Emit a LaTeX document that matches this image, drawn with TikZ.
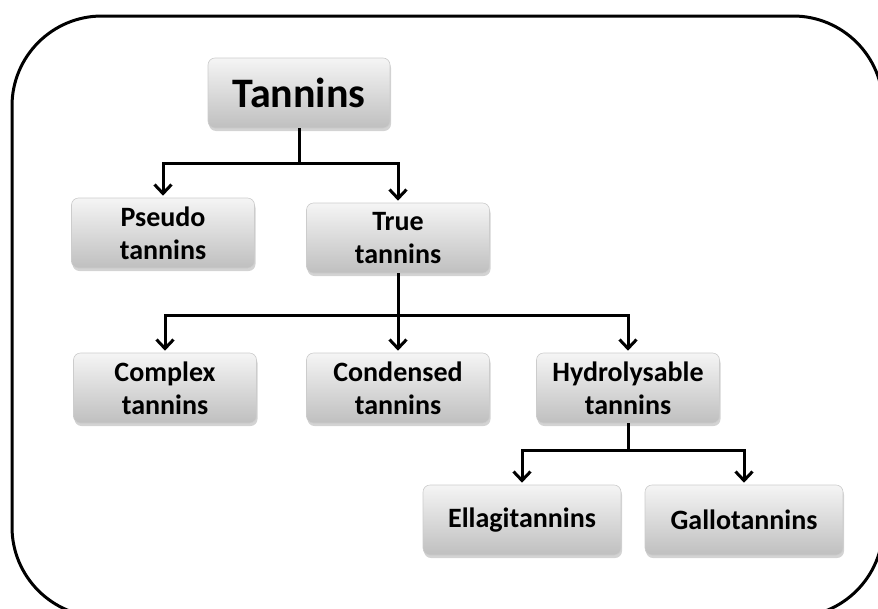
\documentclass[tikz,border=0pt]{standalone}
\usepackage{fontspec}
\setmainfont{Carlito}
\usetikzlibrary{arrows.meta,shadows}

\tikzset{
  tbox/.style={rounded corners=7pt, top color=gray!8, bottom color=gray!50,
    draw=gray!40, line width=0.6pt, minimum width=183pt, minimum height=70pt,
    align=center, inner sep=2pt, font=\fontsize{28}{33}\selectfont\bfseries,
    drop shadow={shadow xshift=1pt, shadow yshift=-3pt, opacity=0.35}},
  conn/.style={line width=3pt, -{Straight Barb[length=9pt,width=17pt,line width=3pt]},
    shorten >=2pt}
}

\begin{document}
\begin{tikzpicture}[x=1pt,y=-1pt]
    \useasboundingbox (0,0) rectangle (878,608);
    \clip (0,0) rectangle (878,608);

    % outer frame
    \draw [line width=3pt, rounded corners=90pt] (12,16) rectangle (883,617);

    % top level
    \node [tbox, minimum width=182pt, font=\fontsize{42}{46}\selectfont\bfseries] (tannins) at (299,93) {Tannins};

    % second level
    \node [tbox] (pseudo) at (163,233) {Pseudo\\tannins};
    \node [tbox] (true) at (398,238) {True\\tannins};

    % third level
    \node [tbox] (complex) at (165,388) {Complex\\tannins};
    \node [tbox] (condensed) at (398,388) {Condensed\\tannins};
    \node [tbox] (hydro) at (628,388) {Hydrolysable\\tannins};

    % fourth level
    \node [tbox, minimum width=198pt] (ellagi) at (522,520) {Ellagitannins};
    \node [tbox, minimum width=198pt] (gallo) at (744,520) {Gallotannins};

    % connectors
    \draw [conn] (tannins.south) -- ++(0,35) -| (pseudo.north);
    \draw [conn] (tannins.south) -- ++(0,35) -| (true.north);

    \draw [conn] (true.south) -- ++(0,42) -| (complex.north);
    \draw [conn] (true.south) -- (condensed.north);
    \draw [conn] (true.south) -- ++(0,42) -| (hydro.north);

    \draw [conn] (hydro.south) -- ++(0,27) -| (ellagi.north);
    \draw [conn] (hydro.south) -- ++(0,27) -| (gallo.north);
\end{tikzpicture}
\end{document}
